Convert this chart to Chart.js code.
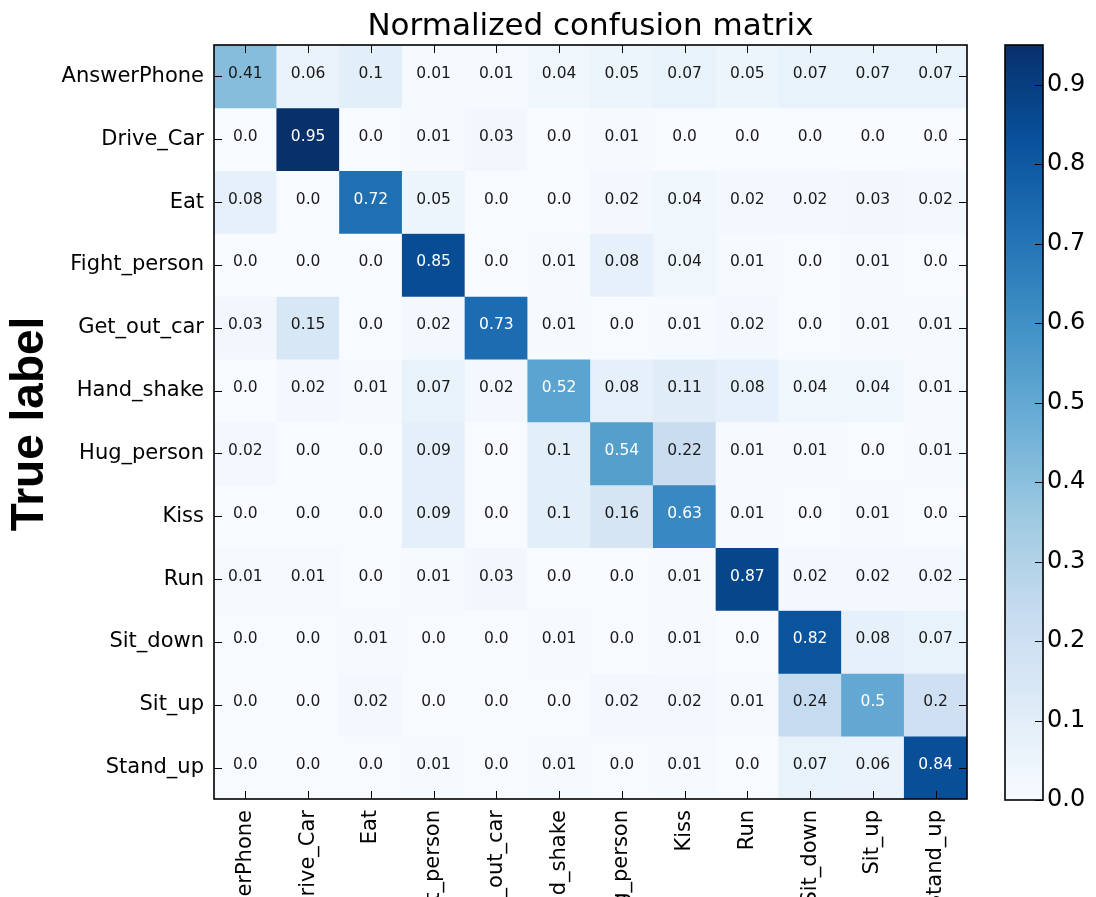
<!DOCTYPE html>
<html>
<head>
<meta charset="utf-8">
<script src="https://cdn.jsdelivr.net/npm/chart.js@4.4.1/dist/chart.umd.min.js"></script>
<style>
  body { margin: 0; background: #fff; }
  #wrap { position: relative; width: 1096px; height: 897px; overflow: hidden; }
  #matrix { position: absolute; left: 0; top: 0; }
  #cbar { position: absolute; left: 1000px; top: 0; }
</style>
</head>
<body>
<div id="wrap">
  <canvas id="matrix" width="1096" height="897"></canvas>
  <canvas id="cbar" width="96" height="897"></canvas>
</div>
<script>
// class names (predicted = columns, true = rows)
const predLabels = ['AnswerPhone', 'Drive_Car', 'Eat', 'Fight_person', 'Get_out_car', 'Hand_shake',
  'Hug_person', 'Kiss', 'Run', 'Sit_down', 'Sit_up', 'Stand_up'];
const trueLabels = predLabels.slice();

// one row per true label
const rowAnswerPhone = [0.41, 0.06, 0.1, 0.01, 0.01, 0.04, 0.05, 0.07, 0.05, 0.07, 0.07, 0.07];
const rowDriveCar    = [0.0, 0.95, 0.0, 0.01, 0.03, 0.0, 0.01, 0.0, 0.0, 0.0, 0.0, 0.0];
const rowEat         = [0.08, 0.0, 0.72, 0.05, 0.0, 0.0, 0.02, 0.04, 0.02, 0.02, 0.03, 0.02];
const rowFight       = [0.0, 0.0, 0.0, 0.85, 0.0, 0.01, 0.08, 0.04, 0.01, 0.0, 0.01, 0.0];
const rowGetOut      = [0.03, 0.15, 0.0, 0.02, 0.73, 0.01, 0.0, 0.01, 0.02, 0.0, 0.01, 0.01];
const rowHandShake   = [0.0, 0.02, 0.01, 0.07, 0.02, 0.52, 0.08, 0.11, 0.08, 0.04, 0.04, 0.01];
const rowHug         = [0.02, 0.0, 0.0, 0.09, 0.0, 0.1, 0.54, 0.22, 0.01, 0.01, 0.0, 0.01];
const rowKiss        = [0.0, 0.0, 0.0, 0.09, 0.0, 0.1, 0.16, 0.63, 0.01, 0.0, 0.01, 0.0];
const rowRun         = [0.01, 0.01, 0.0, 0.01, 0.03, 0.0, 0.0, 0.01, 0.87, 0.02, 0.02, 0.02];
const rowSitDown     = [0.0, 0.0, 0.01, 0.0, 0.0, 0.01, 0.0, 0.01, 0.0, 0.82, 0.08, 0.07];
const rowSitUp       = [0.0, 0.0, 0.02, 0.0, 0.0, 0.0, 0.02, 0.02, 0.01, 0.24, 0.5, 0.2];
const rowStandUp     = [0.0, 0.0, 0.0, 0.01, 0.0, 0.01, 0.0, 0.01, 0.0, 0.07, 0.06, 0.84];
const matrix = [rowAnswerPhone, rowDriveCar, rowEat, rowFight, rowGetOut, rowHandShake,
  rowHug, rowKiss, rowRun, rowSitDown, rowSitUp, rowStandUp];

// colorbar
const vmax = 0.95;
const cbTicks = [0.0, 0.1, 0.2, 0.3, 0.4, 0.5, 0.6, 0.7, 0.8, 0.9];

// matplotlib "Blues"
const blues = ['#f7fbff', '#deebf7', '#c6dbef', '#9ecae1', '#6baed6', '#4292c6', '#2171b5', '#08519c', '#08306b'];

function hexToRgb(h) {
  return [parseInt(h.slice(1, 3), 16), parseInt(h.slice(3, 5), 16), parseInt(h.slice(5, 7), 16)];
}
function bluesColor(v) {
  let t = Math.max(0, Math.min(1, v / vmax)) * (blues.length - 1);
  const i = Math.min(Math.floor(t), blues.length - 2);
  const f = t - i;
  const a = hexToRgb(blues[i]), b = hexToRgb(blues[i + 1]);
  const c = a.map((x, k) => Math.round(x + (b[k] - x) * f));
  return 'rgb(' + c.join(',') + ')';
}
function fmt(v) {
  return v.toFixed(2).replace(/0$/, '');
}

const tickFont = { family: 'DejaVu Sans', size: 21 };

// draws cell values, frame, inward ticks and titles
const matrixDecor = {
  id: 'matrixDecor',
  afterDatasetsDraw(chart) {
    const { ctx, chartArea: a, scales: { x, y } } = chart;
    ctx.save();
    const thresh = vmax / 2;
    ctx.font = '15.5px "DejaVu Sans"';
    ctx.textAlign = 'center';
    ctx.textBaseline = 'alphabetic';
    matrix.forEach((row, r) => {
      row.forEach((v, c) => {
        ctx.fillStyle = v > thresh ? '#ffffff' : '#1a1a1a';
        ctx.fillText(fmt(v), x.getPixelForValue(c), y.getPixelForValue(r) + 1.5);
      });
    });

    // inward ticks
    ctx.strokeStyle = '#000';
    ctx.lineWidth = 1;
    const tl = 8;
    ctx.beginPath();
    predLabels.forEach((_, c) => {
      const px = Math.round(x.getPixelForValue(c)) + 0.5;
      ctx.moveTo(px, a.top); ctx.lineTo(px, a.top + tl);
      ctx.moveTo(px, a.bottom); ctx.lineTo(px, a.bottom - tl);
    });
    trueLabels.forEach((_, r) => {
      const py = Math.round(y.getPixelForValue(r)) + 0.5;
      ctx.moveTo(a.left, py); ctx.lineTo(a.left + tl, py);
      ctx.moveTo(a.right, py); ctx.lineTo(a.right - tl, py);
    });
    ctx.stroke();

    // frame
    ctx.lineWidth = 1.6;
    ctx.strokeRect(a.left, a.top, a.right - a.left, a.bottom - a.top);

    // title
    ctx.fillStyle = '#000';
    ctx.font = '31px "DejaVu Sans"';
    ctx.textAlign = 'center';
    ctx.fillText('Normalized confusion matrix', (a.left + a.right) / 2, 35);

    // y axis title
    ctx.translate(43, 424);
    ctx.rotate(-Math.PI / 2);
    ctx.font = 'bold 46px "Liberation Sans"';
    ctx.fillText('True label', 0, 0);
    ctx.restore();
  }
};

const datasets = matrix.map((row, r) => ({
  label: trueLabels[r],
  data: row.map(() => [r - 0.5, r + 0.5]),
  backgroundColor: row.map(v => bluesColor(v)),
  borderWidth: 0,
  barPercentage: 1,
  categoryPercentage: 1,
  grouped: false
}));

new Chart(document.getElementById('matrix'), {
  type: 'bar',
  data: { labels: predLabels, datasets: datasets },
  options: {
    responsive: false,
    animation: false,
    layout: { padding: { top: 45, right: 129, left: 0, bottom: 0 } },
    plugins: { legend: { display: false }, tooltip: { enabled: false } },
    scales: {
      x: {
        type: 'category',
        offset: true,
        grid: { display: false, drawTicks: false },
        border: { display: false },
        ticks: { autoSkip: false, minRotation: 90, maxRotation: 90, padding: 11, color: '#000', font: tickFont },
        afterFit: s => { s.height = 98; }
      },
      y: {
        type: 'linear',
        reverse: true,
        min: -0.5,
        max: 11.5,
        grid: { display: false, drawTicks: false },
        border: { display: false },
        afterBuildTicks: s => { s.ticks = trueLabels.map((_, i) => ({ value: i })); },
        ticks: { callback: v => trueLabels[v], padding: 10, color: '#000', font: tickFont },
        afterFit: s => { s.width = 214; }
      }
    }
  },
  plugins: [matrixDecor]
});

// colorbar frame + inward ticks
const cbarDecor = {
  id: 'cbarDecor',
  afterDatasetsDraw(chart) {
    const { ctx, chartArea: a, scales: { y } } = chart;
    ctx.save();
    ctx.strokeStyle = '#000';
    ctx.lineWidth = 1;
    ctx.beginPath();
    cbTicks.forEach(v => {
      const py = Math.round(y.getPixelForValue(v)) + 0.5;
      ctx.moveTo(a.right, py); ctx.lineTo(a.right - 8, py);
    });
    ctx.stroke();
    ctx.lineWidth = 1.6;
    ctx.strokeRect(a.left, a.top, a.right - a.left, a.bottom - a.top);
    ctx.restore();
  }
};

new Chart(document.getElementById('cbar'), {
  type: 'bar',
  data: {
    labels: [''],
    datasets: [{
      data: [[0, vmax]],
      backgroundColor: c => {
        const area = c.chart.chartArea;
        if (!area) return blues[0];
        const g = c.chart.ctx.createLinearGradient(0, area.bottom, 0, area.top);
        blues.forEach((col, i) => g.addColorStop(i / (blues.length - 1), col));
        return g;
      },
      borderWidth: 0,
      barPercentage: 1,
      categoryPercentage: 1
    }]
  },
  options: {
    responsive: false,
    animation: false,
    layout: { padding: { top: 45, left: 5, right: 0, bottom: 97 } },
    plugins: { legend: { display: false }, tooltip: { enabled: false } },
    scales: {
      x: { display: false },
      y: {
        position: 'right',
        min: 0,
        max: vmax,
        grid: { display: false, drawTicks: false },
        border: { display: false },
        afterBuildTicks: s => { s.ticks = cbTicks.map(v => ({ value: v })); },
        ticks: { callback: v => v.toFixed(1), padding: 4, color: '#000', font: { family: 'DejaVu Sans', size: 24 } },
        afterFit: s => { s.width = 53; }
      }
    }
  },
  plugins: [cbarDecor]
});
</script>
</body>
</html>
